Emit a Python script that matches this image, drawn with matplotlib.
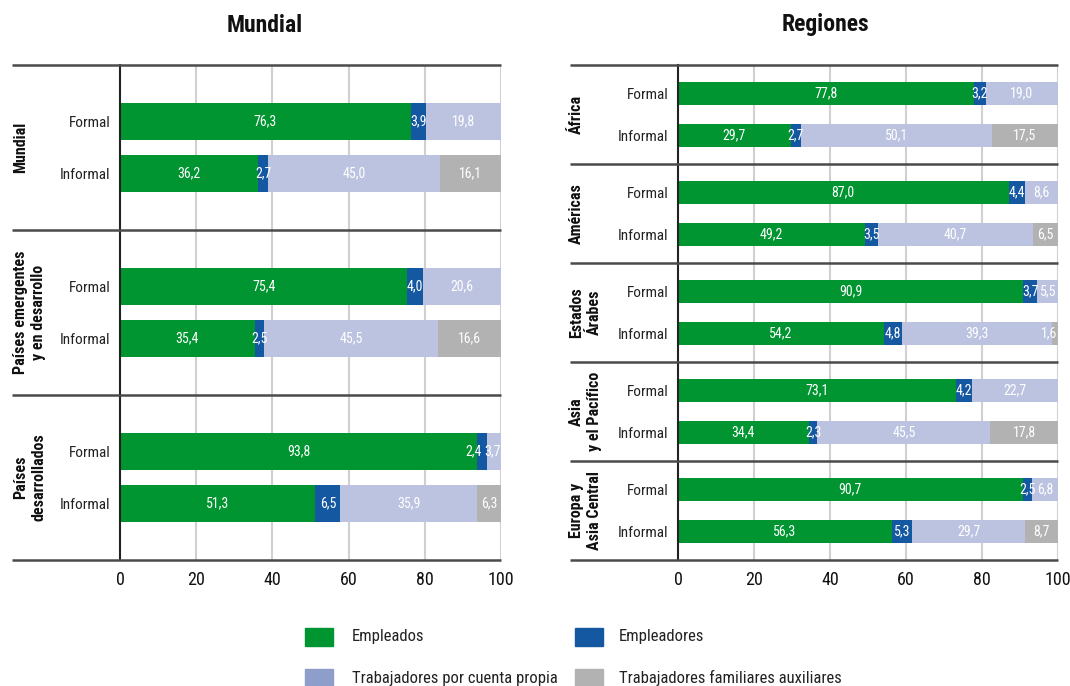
import matplotlib
matplotlib.use("Agg")
import matplotlib.pyplot as plt
import matplotlib.transforms as mtransforms
from matplotlib.patches import Rectangle
from matplotlib import font_manager

names = {f.name for f in font_manager.fontManager.ttflist}
FAM = [n for n in ['Roboto Condensed', 'Liberation Sans Narrow', 'DejaVu Sans Condensed'] if n in names] + ['DejaVu Sans']
plt.rcParams['font.family'] = FAM

series = ['Empleados', 'Empleadores', 'Trabajadores por cuenta propia', 'Trabajadores familiares auxiliares']
bar_colors = ['#009530', '#1558a2', '#bcc3e0', '#b2b2b2']
legend_colors = ['#009530', '#1558a2', '#8f9dcb', '#b2b2b2']
rows = ['Formal', 'Informal']

left_groups = ['Mundial', 'Países emergentes\ny en desarrollo', 'Países\ndesarrollados']
left_formal = [[76.3, 3.9, 19.8, 0.0], [75.4, 4.0, 20.6, 0.0], [93.8, 2.4, 3.7, 0.0]]
left_informal = [[36.2, 2.7, 45.0, 16.1], [35.4, 2.5, 45.5, 16.6], [51.3, 6.5, 35.9, 6.3]]

right_groups = ['África', 'Américas', 'Estados\nÁrabes', 'Asia\ny el Pacífico', 'Europa y\nAsia Central']
right_formal = [[77.8, 3.2, 19.0, 0.0], [87.0, 4.4, 8.6, 0.0], [90.9, 3.7, 5.5, 0.0],
                [73.1, 4.2, 22.7, 0.0], [90.7, 2.5, 6.8, 0.0]]
right_informal = [[29.7, 2.7, 50.1, 17.5], [49.2, 3.5, 40.7, 6.5], [54.2, 4.8, 39.3, 1.6],
                  [34.4, 2.3, 45.5, 17.8], [56.3, 5.3, 29.7, 8.7]]

xticks = [0, 20, 40, 60, 80, 100]

W, H = 1070, 686
fig = plt.figure(figsize=(W / 100, H / 100), dpi=100)


def fmt(v):
    return f"{v:.1f}".replace('.', ',')


def panel(rect, title, groups, formal, informal, pos_f, pos_i, bh, sep_x, label_x, title_x):
    ax = fig.add_axes(rect)
    n = len(groups)
    ax.set_xlim(0, 100)
    ax.set_ylim(n, 0)
    for x in xticks[1:]:
        ax.axvline(x, color='#d0d0d0', lw=1.5, zorder=0)
    ticks_y, ticks_l = [], []
    for g in range(n):
        for vals, pos, lab in ((formal[g], pos_f, rows[0]), (informal[g], pos_i, rows[1])):
            y = g + pos
            nz = [k for k, v in enumerate(vals) if v > 0]
            last = nz[-1]
            left = 0
            for k, v in enumerate(vals):
                if v > 0:
                    ax.barh(y, v, left=left, height=bh, color=bar_colors[k], edgecolor='none', zorder=2)
                    if v < 5 and k == last:
                        ax.annotate(fmt(v), (left + v, y), xytext=(0, 0), textcoords='offset points',
                                    ha='right', va='center', color='white', fontsize=10, zorder=3)
                    elif v < 5 and nz[nz.index(k) + 1] == last and vals[last] < 5:
                        ax.annotate(fmt(v), (left + v, y), xytext=(-3.5, 0), textcoords='offset points',
                                    ha='right', va='center', color='white', fontsize=10, zorder=3)
                    else:
                        ax.text(left + v / 2, y, fmt(v), ha='center', va='center', color='white',
                                fontsize=10, zorder=3)
                left += v
            ticks_y.append(y)
            ticks_l.append(lab)
    ax.set_yticks(ticks_y)
    ax.set_yticklabels(ticks_l, fontsize=11, color='#222222')
    ax.tick_params(axis='y', length=0, pad=7)
    ax.set_xticks(xticks)
    ax.set_xticklabels([str(t) for t in xticks], fontsize=13, color='#111111')
    ax.tick_params(axis='x', length=0, pad=8)
    for s in ['top', 'right', 'bottom']:
        ax.spines[s].set_visible(False)
    ax.spines['left'].set_color('#222222')
    ax.spines['left'].set_linewidth(1.5)
    trans = mtransforms.blended_transform_factory(ax.transAxes, ax.transData)
    for b in range(n + 1):
        ax.plot([sep_x, 1.0], [b, b], transform=trans, color='#4a4a4a', lw=1.8,
                clip_on=False, zorder=4, solid_capstyle='butt')
    for g in range(n):
        ax.text(label_x, g + 0.5, groups[g], transform=trans, rotation=90,
                ha='left', va='center', fontsize=11.5, fontweight='bold',
                multialignment='center', color='#111111', linespacing=1.25)
    fig.text(title_x, 1 - 25 / H, title, ha='center', va='center', fontsize=17,
             fontweight='bold', color='#111111')
    return ax


panel([120 / W, (H - 560) / H, 381 / W, 495 / H], 'Mundial', left_groups, left_formal, left_informal,
      0.34, 0.655, 0.225, -0.2835, (13 - 120) / 381, 265 / W)
panel([678 / W, (H - 560) / H, 380 / W, 495 / H], 'Regiones', right_groups, right_formal, right_informal,
      0.29, 0.71, 0.23, -0.284, (569 - 678) / 380, 825 / W)

# legend
leg_pos = [(305, 637), (575, 637), (305, 678), (575, 678)]
text_x = [352, 619, 352, 619]
for k, (px, py) in enumerate(leg_pos):
    fig.patches.append(Rectangle((px / W, 1 - (py + 9) / H), 28 / W, 18 / H,
                                 transform=fig.transFigure, color=legend_colors[k]))
    fig.text(text_x[k] / W, 1 - py / H, series[k], ha='left', va='center', fontsize=12,
             color='#222222')

fig.savefig('out.png', dpi=100)
